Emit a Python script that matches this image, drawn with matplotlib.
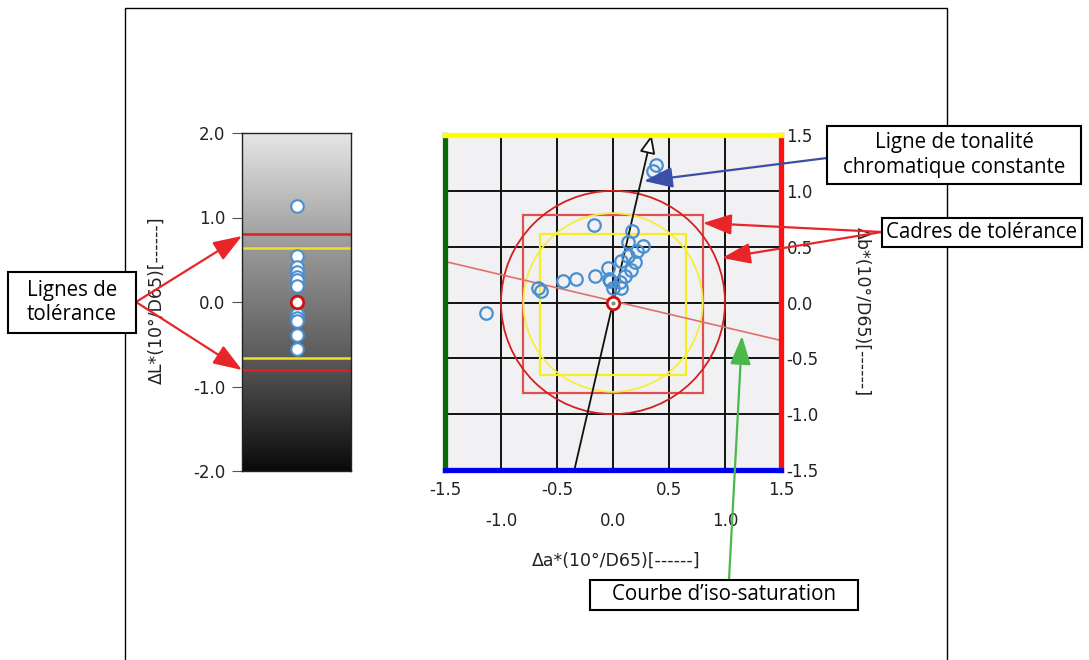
import numpy as np
import matplotlib
matplotlib.use("Agg")
import matplotlib.pyplot as plt
from matplotlib.colors import LinearSegmentedColormap
from matplotlib.patches import Circle, Rectangle

# ΔL* values (left strip)
dL = [1.14, 0.54, 0.41, 0.36, 0.30, 0.26, 0.19, -0.14, -0.19, -0.22, -0.39, -0.56]
dL_red = [0.80, -0.80]
dL_yellow = [0.64, -0.66]

# Δa*, Δb* values (right chart)
da = [0.38, 0.36, -0.17, 0.17, 0.135, 0.27, 0.21, 0.135, 0.075, 0.20, -0.045, 0.165,
      0.105, -0.165, -0.33, -0.45, -0.67, -0.64, -0.03, 0.0, 0.075, 0.06, -0.04, -1.13]
db = [1.23, 1.18, 0.69, 0.64, 0.54, 0.51, 0.46, 0.42, 0.37, 0.36, 0.31, 0.29,
      0.24, 0.24, 0.21, 0.19, 0.13, 0.105, 0.19, 0.13, 0.13, 0.18, 0.21, -0.09]

red_square = (-0.80, 0.80, -0.81, 0.78)      # a_min, a_max, b_min, b_max
yellow_square = (-0.65, 0.65, -0.65, 0.61)
red_radius = 1.0
yellow_radius = 0.80
hue_line_a = [-0.345, 0.345]
hue_line_b = [-1.5, 1.5]
sat_line_a = [-1.47, 1.50]
sat_line_b = [0.36, -0.34]

ab_ticks = [-1.5, -1.0, -0.5, 0.0, 0.5, 1.0, 1.5]
L_ticks = [2.0, 1.0, 0.0, -1.0, -2.0]

W, H = 1089, 660
fig = plt.figure(figsize=(W / 100, H / 100), dpi=100)
plt.rcParams['font.family'] = ['DejaVu Sans']

def box(x0, y0, x1, y1):
    return [x0 / W, 1 - y1 / H, (x1 - x0) / W, (y1 - y0) / H]

blue = '#4a8fd0'
tick_font = dict(fontsize=12, color='#222222')
label_size = 12.5

# ---- left strip: ΔL*
axL = fig.add_axes(box(242, 133, 351, 471))
cmap = LinearSegmentedColormap.from_list('g', ['#0a0a0a', '#5a5a5a', '#9a9a9a', '#e6e6e6'])
grad = np.linspace(0, 1, 256).reshape(-1, 1)
axL.imshow(grad, extent=[-1, 1, -2, 2], origin='lower', cmap=cmap, aspect='auto', zorder=0)
axL.set_xlim(-1, 1)
axL.set_ylim(-2, 2)
for v in dL_red:
    axL.axhline(v, color='#e02020', lw=1.8, zorder=2)
for v in dL_yellow:
    axL.axhline(v, color='#f0e020', lw=1.8, zorder=2)
axL.plot([0] * len(dL), dL, 'o', ms=9, mfc='white', mec=blue, mew=1.5, zorder=3)
axL.plot([0], [0], 'o', ms=9, mfc='white', mec='#cc1111', mew=2, zorder=4)
axL.set_xticks([])
axL.set_yticks(L_ticks)
axL.set_yticklabels([f"{v:.1f}" for v in L_ticks], **tick_font)
axL.tick_params(axis='y', length=7, color='#555555', pad=5)
for s in axL.spines.values():
    s.set_color('#222222')
    s.set_linewidth(1)
fig.text(157 / W, 1 - 300 / H, "ΔL*(10°/D65)[------]", rotation=90,
         ha='center', va='center', fontsize=label_size, color='#222222')

# ---- right chart: Δa*, Δb*
ax = fig.add_axes(box(445, 135, 781, 470))
ax.set_facecolor('#f1f1f3')
ax.set_xlim(-1.5, 1.5)
ax.set_ylim(-1.5, 1.5)
for v in ab_ticks[1:-1]:
    ax.axvline(v, color='#111111', lw=1.4, zorder=1)
    ax.axhline(v, color='#111111', lw=1.4, zorder=1)

ax.add_patch(Rectangle((red_square[0], red_square[2]), red_square[1] - red_square[0],
                       red_square[3] - red_square[2], fill=False, ec='#e05050', lw=1.6, zorder=2))
ax.add_patch(Rectangle((yellow_square[0], yellow_square[2]), yellow_square[1] - yellow_square[0],
                       yellow_square[3] - yellow_square[2], fill=False, ec='#f5ee20', lw=1.6, zorder=2))
ax.add_patch(Circle((0, 0), red_radius, fill=False, ec='#d42020', lw=1.3, zorder=2))
ax.add_patch(Circle((0, 0), yellow_radius, fill=False, ec='#f5ee40', lw=1.3, zorder=2))
ax.plot(sat_line_a, sat_line_b, color='#e07070', lw=1.2, zorder=2)
ax.annotate('', xy=(hue_line_a[1], hue_line_b[1]), xytext=(hue_line_a[0], hue_line_b[0]),
            arrowprops=dict(arrowstyle='-|>,head_length=0.7,head_width=0.3', fc='white',
                            ec='#111111', lw=1.3, mutation_scale=16, shrinkA=0, shrinkB=0),
            zorder=3, annotation_clip=False)
ax.plot(da, db, 'o', ms=9, mfc='none', mec=blue, mew=1.6, zorder=4)
ax.plot([0], [0], 'o', ms=9, mfc='white', mec='#cc1111', mew=2, zorder=5)
ax.plot([0], [0], 'o', ms=3, mfc='#888888', mec='none', zorder=6)

spine_cols = {'top': '#ffff00', 'bottom': '#0000ee', 'left': '#0a6a0a', 'right': '#ff1010'}
for k, c in spine_cols.items():
    ax.spines[k].set_color(c)
    ax.spines[k].set_linewidth(3.8)
    ax.spines[k].set_zorder(7)

ax.set_xticks(ab_ticks[::2])
ax.set_xticklabels([f"{v:.1f}" for v in ab_ticks[::2]], **tick_font)
ax.set_xticks(ab_ticks[1::2], minor=True)
ax.set_xticklabels([f"{v:.1f}" for v in ab_ticks[1::2]], minor=True, **tick_font)
ax.tick_params(axis='x', which='major', length=0, pad=8)
ax.tick_params(axis='x', which='minor', length=0, pad=30)
ax.yaxis.tick_right()
ax.set_yticks(ab_ticks)
ax.set_yticklabels([f"{v:.1f}" for v in ab_ticks], **tick_font)
ax.tick_params(axis='y', length=0, pad=4)
fig.text(616 / W, 1 - 561 / H, "Δa*(10°/D65)[------]", ha='center', va='center',
         fontsize=label_size, color='#222222')
fig.text(862 / W, 1 - 312 / H, "Δb*(10°/D65)[------]", rotation=-90,
         ha='center', va='center', fontsize=label_size, color='#222222')

# ---- overlay: frame, callouts
ov = fig.add_axes([0, 0, 1, 1])
ov.set_xlim(0, W)
ov.set_ylim(H, 0)
ov.axis('off')
ov.set_zorder(10)
ov.plot([125, 125, 947, 947], [H, 8, 8, H], color='black', lw=1, zorder=1)

def callout(x0, y0, x1, y1, text):
    ov.add_patch(Rectangle((x0, y0), x1 - x0, y1 - y0, fc='white', ec='black', lw=1.5, zorder=3))
    ov.text((x0 + x1) / 2, (y0 + y1) / 2, text, ha='center', va='center', fontsize=14.8,
            linespacing=1.2, zorder=4, family=['Open Sans', 'DejaVu Sans'])

def arrow(p0, p1, color):
    ov.annotate('', xy=p1, xytext=p0,
                arrowprops=dict(arrowstyle='-|>,head_length=1.1,head_width=0.4', color=color,
                                lw=1.6, mutation_scale=16, shrinkA=0, shrinkB=0), zorder=2)

callout(8, 272, 136, 333, "Lignes de\ntolérance")
arrow((136, 302), (242, 236), '#e8262a')
arrow((136, 302), (242, 370), '#e8262a')

callout(827, 126, 1081, 184, "Ligne de tonalité\nchromatique constante")
arrow((827, 158), (644, 181), '#3c4fa8')

callout(882, 218, 1082, 247, "Cadres de tolérance")
arrow((882, 232), (703, 223), '#e8262a')
arrow((882, 232), (722, 258), '#e8262a')

callout(590, 580, 858, 610, "Courbe d’iso-saturation")
arrow((729, 580), (742, 336), '#4bb84b')

fig.savefig('out.png', dpi=100)
